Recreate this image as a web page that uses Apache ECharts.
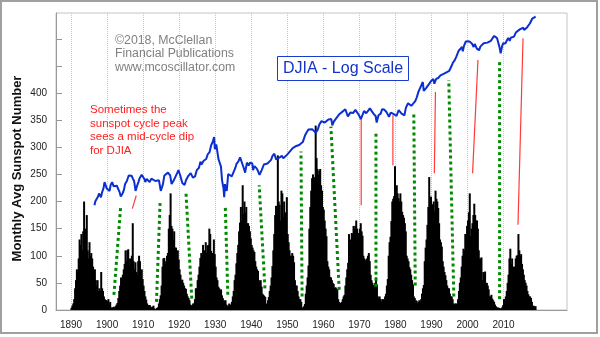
<!DOCTYPE html>
<html><head><meta charset="utf-8">
<script src="https://cdn.jsdelivr.net/npm/echarts@6/dist/echarts.min.js"></script>
<style>html,body{margin:0;padding:0;background:#fff;}#c{width:600px;height:337px;}</style>
</head><body><div id="c"></div>
<script>
// Monthly avg sunspot number, sampled quarterly (Q1..Q4) from 1890 to 2018
const sunspotStartYear = 1890;
const sunspotQ = [
 4,8,12,20, 40,55,75,70, 95,130,120,140, 110,145,200,115, 150,175,110,95,
 125,100,105,95, 80,65,75,55, 45,55,35,40, 35,70,40,35, 25,20,18,18,
 15,20,12,15, 3,5,4,6, 4,7,10,13, 22,35,45,60, 55,65,75,85,
 110,90,110,112, 80,95,85,100, 160,90,75,88, 70,65,90,100, 90,70,75,57,
 45,35,25,19, 12,8,9,9, 6,4,6,8, 3,2,1,4, 5,12,20,27,
 45,80,95,96, 85,90,100,105, 150,175,215,155, 150,130,145,115, 115,105,110,93,
 75,65,55,56, 50,45,40,39, 30,25,22,18, 10,8,9,12, 12,20,40,40,
 55,65,80,96, 105,100,120,101, 110,125,105,119, 120,150,140,109, 105,95,130,103,
 80,60,55,43, 40,35,38,27, 22,18,17,18, 10,8,7,12, 8,10,15,25,
 35,55,65,86, 105,120,145,161, 190,165,230,177, 200,180,190,160, 160,155,145,132,
 120,115,110,107, 90,80,75,72, 55,50,55,43, 30,28,26,24, 10,12,18,24,
 35,45,60,81, 110,140,175,192, 180,285,200,194, 165,220,215,172, 200,180,175,208,
 140,125,110,100, 100,105,100,88, 55,45,45,35, 25,20,20,15, 3,5,7,11,
 30,45,60,82, 150,190,220,243, 250,245,242,340, 280,260,250,257, 260,230,220,190,
 185,165,150,136, 90,80,75,61, 60,55,50,48, 40,42,40,38, 20,15,12,13,
 15,20,25,28, 45,60,75,87, 140,120,130,142, 140,155,150,155, 165,150,140,142,
 150,160,145,137, 100,95,90,93, 95,100,105,90, 65,55,50,46, 40,50,60,47,
 25,20,25,20, 15,20,20,18, 25,30,45,57, 100,125,135,164, 200,205,210,265,
 225,230,215,206, 200,215,200,181, 175,170,160,145, 100,95,90,79, 75,65,55,47,
 25,22,18,17, 12,15,18,14, 20,30,40,46, 90,115,130,157, 190,245,200,209,
 190,195,200,182, 220,205,200,188, 160,130,125,117, 90,80,70,64, 55,45,40,40,
 30,25,25,20, 12,10,12,12, 10,20,35,50, 60,80,100,113, 110,140,140,155,
 165,180,215,136, 150,160,175,196, 175,165,165,150, 110,95,95,97, 55,70,65,71,
 50,50,45,38, 25,25,28,21, 18,15,10,7, 4,5,3,4, 2,3,5,9,
 20,20,25,35, 50,65,95,113, 85,95,80,78, 80,95,100,101, 140,110,100,103,
 85,75,65,55, 50,45,35,29, 25,25,22,15, 7,8,6,7
];

// DJIA (log scale), decimal year and index level
const djiaT = [1896.5,1896.75,1897.0,1897.5,1897.75,1898.0,1898.3,1898.6,1899.0,1899.3,1899.7,1899.9,1900.3,1900.7,1901.0,1901.4,1901.8,1902.3,1902.7,1903.0,1903.5,1903.8,1904.3,1904.7,1905.0,1905.5,1906.0,1906.4,1906.8,1907.2,1907.5,1907.9,1908.3,1908.7,1909.0,1909.6,1909.9,1910.4,1910.6,1911.0,1911.5,1911.8,1912.3,1912.8,1913.4,1913.8,1914.4,1914.9,1915.0,1915.5,1915.9,1916.3,1916.9,1917.5,1917.9,1918.5,1918.9,1919.5,1919.8,1920.3,1920.9,1921.5,1921.9,1922.5,1922.9,1923.2,1923.8,1924.4,1924.9,1925.5,1925.9,1926.2,1926.8,1927.5,1927.9,1928.4,1928.9,1929.3,1929.7,1929.9,1930.3,1930.9,1931.2,1931.6,1931.9,1932.3,1932.5,1932.7,1932.9,1933.2,1933.6,1934.0,1934.6,1935.0,1935.6,1935.9,1936.4,1936.9,1937.2,1937.9,1938.3,1938.8,1939.3,1939.7,1940.3,1940.5,1940.9,1941.5,1941.9,1942.3,1942.9,1943.5,1943.9,1944.5,1944.9,1945.5,1945.9,1946.4,1946.9,1947.3,1947.9,1948.5,1948.9,1949.4,1949.9,1950.5,1950.9,1951.5,1951.9,1952.5,1952.9,1953.3,1953.7,1954.3,1954.9,1955.5,1955.9,1956.3,1956.9,1957.4,1957.9,1958.5,1958.9,1959.5,1959.9,1960.4,1960.8,1961.4,1961.9,1962.2,1962.5,1962.9,1963.5,1963.9,1964.5,1964.9,1965.4,1965.5,1965.9,1966.1,1966.8,1967.5,1967.9,1968.3,1968.9,1969.3,1969.9,1970.4,1970.9,1971.3,1971.9,1972.5,1972.9,1973.3,1973.9,1974.5,1974.8,1975.3,1975.9,1976.3,1976.9,1977.5,1977.9,1978.2,1978.7,1979.3,1979.8,1980.3,1980.9,1981.3,1981.7,1982.5,1982.9,1983.5,1983.9,1984.4,1984.9,1985.5,1985.9,1986.4,1986.9,1987.6,1987.85,1988.5,1988.9,1989.5,1989.9,1990.5,1990.8,1991.3,1991.9,1992.5,1992.9,1993.5,1993.9,1994.3,1994.9,1995.5,1995.9,1996.5,1996.9,1997.5,1997.9,1998.5,1998.7,1999.0,1999.5,1999.9,2000.1,2000.3,2000.7,2001.0,2001.3,2001.5,2001.7,2002.0,2002.3,2002.6,2002.9,2003.2,2003.6,2003.9,2004.5,2004.9,2005.5,2005.9,2006.5,2006.9,2007.4,2007.8,2008.2,2008.6,2008.9,2009.2,2009.6,2009.9,2010.3,2010.5,2010.9,2011.3,2011.7,2012.0,2012.5,2012.9,2013.4,2013.9,2014.5,2014.9,2015.5,2015.7,2016.1,2016.5,2016.9,2017.3,2017.7,2017.95,2018.1,2018.3,2018.7,2018.9];
const djiaV = [33,38,40,45,50,48,44,52,60,75,75,60,62,55,68,75,65,66,66,64,52,45,50,58,70,78,95,92,94,84,78,55,65,75,85,97,98,83,75,84,86,75,85,90,78,76,80,55,56,70,95,92,105,95,70,80,85,105,115,95,72,68,80,93,97,103,88,92,115,125,155,140,160,170,200,215,280,310,370,240,285,170,180,130,80,60,44,70,60,55,100,105,92,104,125,143,155,180,185,125,105,150,135,150,145,115,132,122,110,97,115,140,132,145,150,165,190,205,168,172,180,190,175,170,197,215,230,250,265,270,285,280,262,310,390,450,485,510,490,500,430,490,580,650,670,620,590,690,730,700,560,640,710,760,840,880,920,870,950,990,770,880,890,870,970,950,800,700,820,930,860,950,1020,960,850,780,620,800,850,990,980,900,820,760,880,850,820,780,960,990,850,800,1040,1230,1250,1120,1200,1320,1500,1850,1900,2600,1900,2100,2130,2500,2700,2900,2450,2900,3000,3300,3250,3500,3700,3700,3850,4500,5100,5700,6400,7800,7700,9000,7700,9300,10900,11200,11000,10300,10800,10600,10000,10500,9000,10000,10300,8500,8300,8000,9200,9800,10300,10400,10500,10700,11200,12200,13300,13900,12300,11500,8800,7200,9300,10300,10800,10200,11300,12400,11200,12500,12800,13000,15000,15800,16800,17500,17800,16400,16200,18000,19100,20700,22000,24500,25600,24300,26000,26300];

// Annotations: [yearA, sunspotA, yearB, sunspotB]
const greenSegs = [
 [1901.9,28,1903.8,193],[1913.7,15,1914.7,197],[1923.5,21,1921.9,215],
 [1933.5,28,1932.8,192],[1943.8,40,1942.2,230],[1954.1,25,1953.8,292],
 [1964.4,37,1962.1,338],[1974.6,43,1974.6,329],[1985.5,45,1985.1,362],
 [1996.2,25,1994.8,424],[2008.9,20,2008.9,458]
];
const redSegs = [
 [1907.0,187,1908.1,211],[1970.5,193,1970.5,353],[1979.3,267,1979.3,359],
 [1990.8,252,1991.1,402],[2001.4,252,2002.9,461],[2014.0,157,2015.4,501]
];
const decadeTicks = [1890,1900,1910,1920,1930,1940,1950,1960,1970,1980,1990,2000,2010];
const sunTicks = [0,50,100,150,200,250,300,350,400,450,500];
const sunLabels = [0,50,100,150,200,250,300,350,400];

const FONT = 'Liberation Sans, Arial, sans-serif';
const sunData = sunspotQ.map((v,i)=>[sunspotStartYear + (i+0.5)/4, v]);
const djiaData = djiaT.map((t,i)=>[t, djiaV[i]]);

const series = [
 { type:'bar', data:sunData, barWidth:2, itemStyle:{color:'#000'}, z:3, silent:true },
 { type:'line', data:djiaData, yAxisIndex:1, showSymbol:false, z:6,
   lineStyle:{color:'#0b2fd0', width:2}, silent:true }
];
greenSegs.forEach(s=>series.push({type:'line', data:[[s[0],s[1]],[s[2],s[3]]], showSymbol:false, z:5, silent:true,
  lineStyle:{color:'#008a00', width:3, type:[3,3]}}));
redSegs.forEach(s=>series.push({type:'line', data:[[s[0],s[1]],[s[2],s[3]]], showSymbol:false, z:5, silent:true,
  lineStyle:{color:'#ff3b3b', width:1.2}}));

const chart = echarts.init(document.getElementById('c'), null, {renderer:'canvas'});
chart.setOption({
 animation:false,
 backgroundColor:'#fff',
 grid:{left:56, right:33, top:13, bottom:27, show:true, borderColor:'#c4c4c4', borderWidth:1, backgroundColor:'transparent'},
 xAxis:{type:'value', min:1885.83, max:2027.6,
   axisLine:{show:true, onZero:false, lineStyle:{color:'#999'}},
   axisTick:{show:false, customValues:decadeTicks},
   axisLabel:{customValues:decadeTicks, color:'#222', fontSize:10, fontFamily:FONT, margin:10, formatter:v=>String(v)},
   splitLine:{show:true, lineStyle:{color:'#c8c8c8', type:'dotted', width:1}}},
 yAxis:[
  {type:'value', min:0, max:547.5,
   axisLine:{show:true, lineStyle:{color:'#999'}},
   axisTick:{show:true, inside:true, length:6, customValues:sunTicks, lineStyle:{color:'#999'}},
   axisLabel:{customValues:sunLabels, color:'#222', fontSize:10, fontFamily:FONT, margin:9},
   splitLine:{show:false}},
  {type:'log', logBase:10, min:0.8087, max:29990, show:false, splitLine:{show:false}}
 ],
 series:series,
 graphic:[
  {type:'rect', shape:{x:1, y:1, width:596, height:332}, style:{fill:'none', stroke:'#a0a0a0', lineWidth:2}, z:100},
  {type:'text', x:17.5, y:168.5, rotation:Math.PI/2, style:{text:'Monthly Avg Sunspot Number',
    fill:'#111', font:'bold 13px '+FONT, align:'center', verticalAlign:'middle'}, z:50},
  {type:'text', left:115, top:34, style:{text:'©2018, McClellan\nFinancial Publications\nwww.mcoscillator.com',
    fill:'#808080', font:'12.3px '+FONT, lineHeight:13.4}, z:50},
  {type:'rect', shape:{x:277.5, y:56.5, width:131, height:24}, style:{fill:'#fff', stroke:'#1a3ad0', lineWidth:1}, z:50},
  {type:'text', x:343, y:68.5, style:{text:'DJIA - Log Scale', fill:'#1434c8', font:'16px '+FONT, align:'center', verticalAlign:'middle'}, z:51},
  {type:'text', left:90, top:103.5, style:{text:'Sometimes the\nsunspot cycle peak\nsees a mid-cycle dip\nfor DJIA',
    fill:'#ff2020', font:'11.5px '+FONT, lineHeight:13.4}, z:50}
 ]
});
</script></body></html>
